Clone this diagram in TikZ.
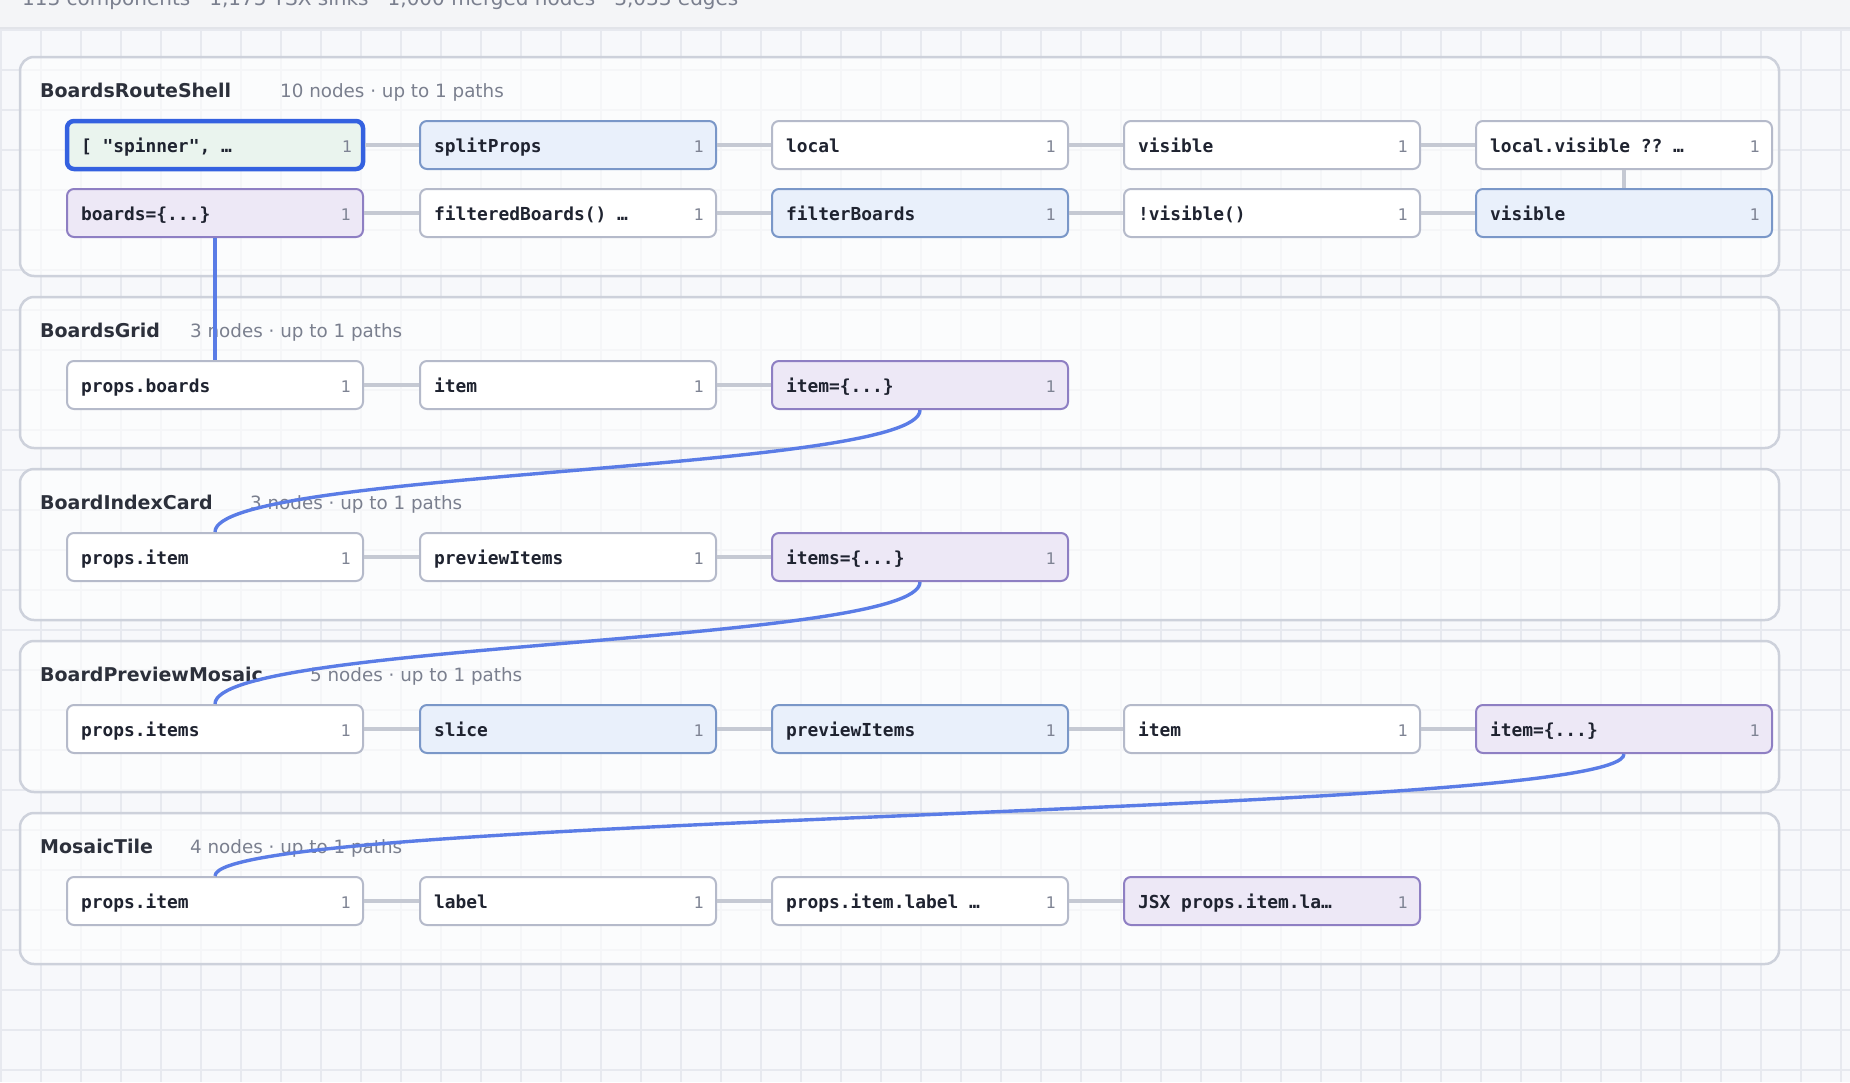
\documentclass[tikz,border=0pt]{standalone}
\usepackage{fontspec}
\setmainfont{DejaVu Sans}
\setmonofont{DejaVu Sans Mono}
\usetikzlibrary{positioning,calc}

\definecolor{canvasbg}{HTML}{F7F8FB}
\definecolor{gridline}{HTML}{E7E9EF}
\definecolor{headbg}{HTML}{F4F5F7}
\definecolor{headline}{HTML}{E2E4E9}
\definecolor{groupline}{HTML}{CDD1DB}
\definecolor{nodeline}{HTML}{B5BACA}
\definecolor{bluefill}{HTML}{E9F0FB}
\definecolor{blueline}{HTML}{7A97C8}
\definecolor{purpfill}{HTML}{EDE8F6}
\definecolor{purpline}{HTML}{8E7FC3}
\definecolor{selfill}{HTML}{EAF4EE}
\definecolor{selline}{HTML}{3461E0}
\definecolor{edgegray}{HTML}{C5C9D3}
\definecolor{flowblue}{HTML}{5A7CE6}
\definecolor{inktext}{HTML}{1F2330}
\definecolor{titletext}{HTML}{2C303B}
\definecolor{subtext}{HTML}{7A7F8E}
\definecolor{counttext}{HTML}{7E8393}

% monospace labels keep full-width spaces
\DeclareRobustCommand\monospaces{\spaceskip=0.602em\relax \xspaceskip=\spaceskip}

\begin{document}
\begin{tikzpicture}[x=1pt, y=-1pt,
  gridln/.style={draw=gridline, line width=1.5pt},
  grp/.style={draw=groupline, line width=2.5pt, fill=white, fill opacity=0.6, rounded corners=14pt},
  grptitle/.style={anchor=base west, inner sep=0pt, text=titletext, font=\fontsize{19}{22}\selectfont\bfseries},
  grpsub/.style={anchor=base west, inner sep=0pt, text=subtext, font=\fontsize{18.3}{22}\selectfont},
  var/.style={draw=nodeline, line width=2pt, fill=white, rounded corners=7pt,
    minimum height=48pt, text width=268pt, inner xsep=14pt, inner ysep=0pt, align=left,
    text height=16pt, text depth=2pt, text=inktext,
    font=\fontsize{17.9}{20}\selectfont\ttfamily\bfseries, execute at begin node=\monospaces,
    label={[anchor=base east, inner sep=0pt, text width=10pt, align=right, xshift=-13pt, yshift=-7pt,
      text=counttext, font=\fontsize{16}{18}\selectfont]east:1}},
  flowvar/.style={var, draw=blueline, fill=bluefill},
  jsxvar/.style={var, draw=purpline, fill=purpfill},
  pickvar/.style={var, draw=selline, fill=selfill, line width=4.5pt},
  link/.style={draw=edgegray, line width=4pt},
  flow/.style={draw=flowblue, line width=3.4pt}]
\def\xa{215} \def\xb{568} \def\xc{920} \def\xd{1272} \def\xe{1624}
\def\ya{145} \def\yb{213} \def\yc{385} \def\yd{557} \def\ye{729} \def\yf{901}
\path[use as bounding box] (0,0) rectangle (1850,1082);
\clip (0,0) rectangle (1850,1082);

% canvas and grid
\fill[canvasbg] (0,0) rectangle (1850,1082);
\foreach \gx in {1,41,...,1841} \draw[gridln] (\gx,28) -- (\gx,1082);
\foreach \gy in {30,70,...,1070} \draw[gridln] (0,\gy) -- (1850,\gy);
\fill[headbg] (0,0) rectangle (1850,28);
\draw[headline, line width=2.5pt] (0,28) -- (1850,28);
\node[anchor=base west, inner sep=0pt, text=subtext, font=\fontsize{20}{24}\selectfont] (stats) at (22,5)
  {113 components · 1,175 TSX sinks · 1,000 merged nodes · 3,033 edges};

% component groups
\foreach \gtop/\ght/\gid/\gname/\gcount/\sx in {57/219/routeshell/BoardsRouteShell/10/280,
    297/151/grid/BoardsGrid/3/190, 469/151/card/BoardIndexCard/3/250,
    641/151/mosaic/BoardPreviewMosaic/5/310, 813/151/tile/MosaicTile/4/190} {
  \draw[grp] (20,\gtop) rectangle (1779,\gtop+\ght);
  \node[grptitle] (\gid-title) at (40,\gtop+40) {\gname};
  \node[grpsub] (\gid-sub) at (\sx,\gtop+40) {\gcount\ nodes · up to 1 paths};
}

% BoardsRouteShell
\node[pickvar] (spinner) at (\xa,\ya) {[ "spinner", …};
\node[flowvar] (splitprops) at (\xb,\ya) {splitProps};
\node[var] (local) at (\xc,\ya) {local};
\node[var] (visible) at (\xd,\ya) {visible};
\node[var] (localvis) at (\xe,\ya) {local.visible ?? …};
\node[jsxvar] (boards) at (\xa,\yb) {boards=\{...\}};
\node[var] (filtered) at (\xb,\yb) {filteredBoards() …};
\node[flowvar] (filterfn) at (\xc,\yb) {filterBoards};
\node[var] (notvis) at (\xd,\yb) {!visible()};
\node[flowvar] (visflag) at (\xe,\yb) {visible};

% BoardsGrid
\node[var] (gprops) at (\xa,\yc) {props.boards};
\node[var] (gitem) at (\xb,\yc) {item};
\node[jsxvar] (gitemjsx) at (\xc,\yc) {item=\{...\}};

% BoardIndexCard
\node[var] (cprops) at (\xa,\yd) {props.item};
\node[var] (cprev) at (\xb,\yd) {previewItems};
\node[jsxvar] (citems) at (\xc,\yd) {items=\{...\}};

% BoardPreviewMosaic
\node[var] (mprops) at (\xa,\ye) {props.items};
\node[flowvar] (mslice) at (\xb,\ye) {slice};
\node[flowvar] (mprev) at (\xc,\ye) {previewItems};
\node[var] (mitem) at (\xd,\ye) {item};
\node[jsxvar] (mitemjsx) at (\xe,\ye) {item=\{...\}};

% MosaicTile
\node[var] (tprops) at (\xa,\yf) {props.item};
\node[var] (tlabel) at (\xb,\yf) {label};
\node[var] (tproplabel) at (\xc,\yf) {props.item.label …};
\node[jsxvar] (tjsx) at (\xd,\yf) {JSX props.item.la…};

% local edges
\foreach \a/\b in {spinner/splitprops, splitprops/local, local/visible, visible/localvis,
    boards/filtered, filtered/filterfn, filterfn/notvis, notvis/visflag, localvis/visflag,
    gprops/gitem, gitem/gitemjsx, cprops/cprev, cprev/citems,
    mprops/mslice, mslice/mprev, mprev/mitem, mitem/mitemjsx,
    tprops/tlabel, tlabel/tproplabel, tproplabel/tjsx}
  \draw[link] (\a) -- (\b);

% props passed down
\draw[flow] (boards) -- (gprops);
\draw[flow] (gitemjsx.south) .. controls ([yshift=-62pt]gitemjsx.south) and ([yshift=62pt]cprops.north) .. (cprops.north);
\draw[flow] (citems.south) .. controls ([yshift=-62pt]citems.south) and ([yshift=62pt]mprops.north) .. (mprops.north);
\draw[flow] (mitemjsx.south) .. controls ([yshift=-62pt]mitemjsx.south) and ([yshift=62pt]tprops.north) .. (tprops.north);
\end{tikzpicture}
\end{document}
